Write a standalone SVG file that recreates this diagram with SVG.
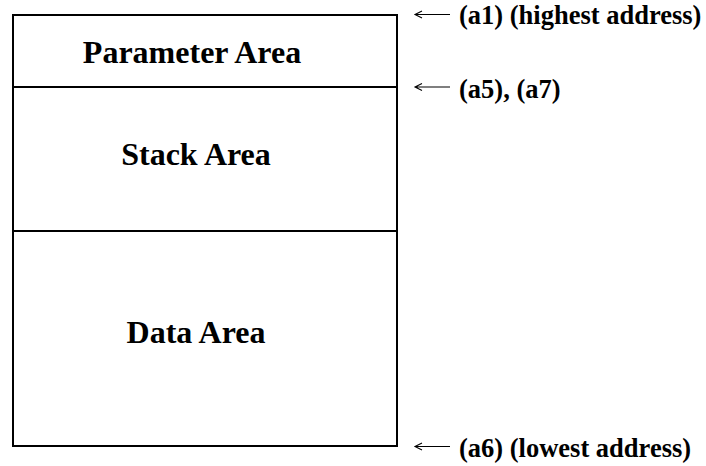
<svg xmlns="http://www.w3.org/2000/svg" width="706" height="466" viewBox="0 0 706 466">
<style>
.box{fill:none;stroke:#000;stroke-width:2}
.lbl{font-family:"Liberation Serif","Times New Roman",serif;font-weight:bold;font-size:32px;fill:#000;text-anchor:middle}
.side{font-family:"Liberation Serif","Times New Roman",serif;font-weight:bold;font-size:26.5px;fill:#000}
.arr{fill:none;stroke:#000;stroke-width:1.1}
</style>
<rect width="706" height="466" fill="#fff"/>
<g id="parameter-area">
<rect class="box" x="13" y="15" width="384" height="72"/>
<text class="lbl" x="192" y="63">Parameter Area</text>
</g>
<g id="stack-area">
<rect class="box" x="13" y="87" width="384" height="144"/>
<text class="lbl" x="196" y="165">Stack Area</text>
</g>
<g id="data-area">
<rect class="box" x="13" y="231" width="384" height="215"/>
<text class="lbl" x="196" y="343">Data Area</text>
</g>
<g id="connectors">
<path class="arr" d="M415 14.5H450M422 11L415 14.5L422 18"/>
<path class="arr" d="M415 87H450M422 83.5L415 87L422 90.5"/>
<path class="arr" d="M415 446.5H450M422 443L415 446.5L422 450"/>
</g>
<g id="labels">
<text class="side" x="459" y="24">(a1) (highest address)</text>
<text class="side" x="459" y="98">(a5), (a7)</text>
<text class="side" x="459" y="457">(a6) (lowest address)</text>
</g>
</svg>
